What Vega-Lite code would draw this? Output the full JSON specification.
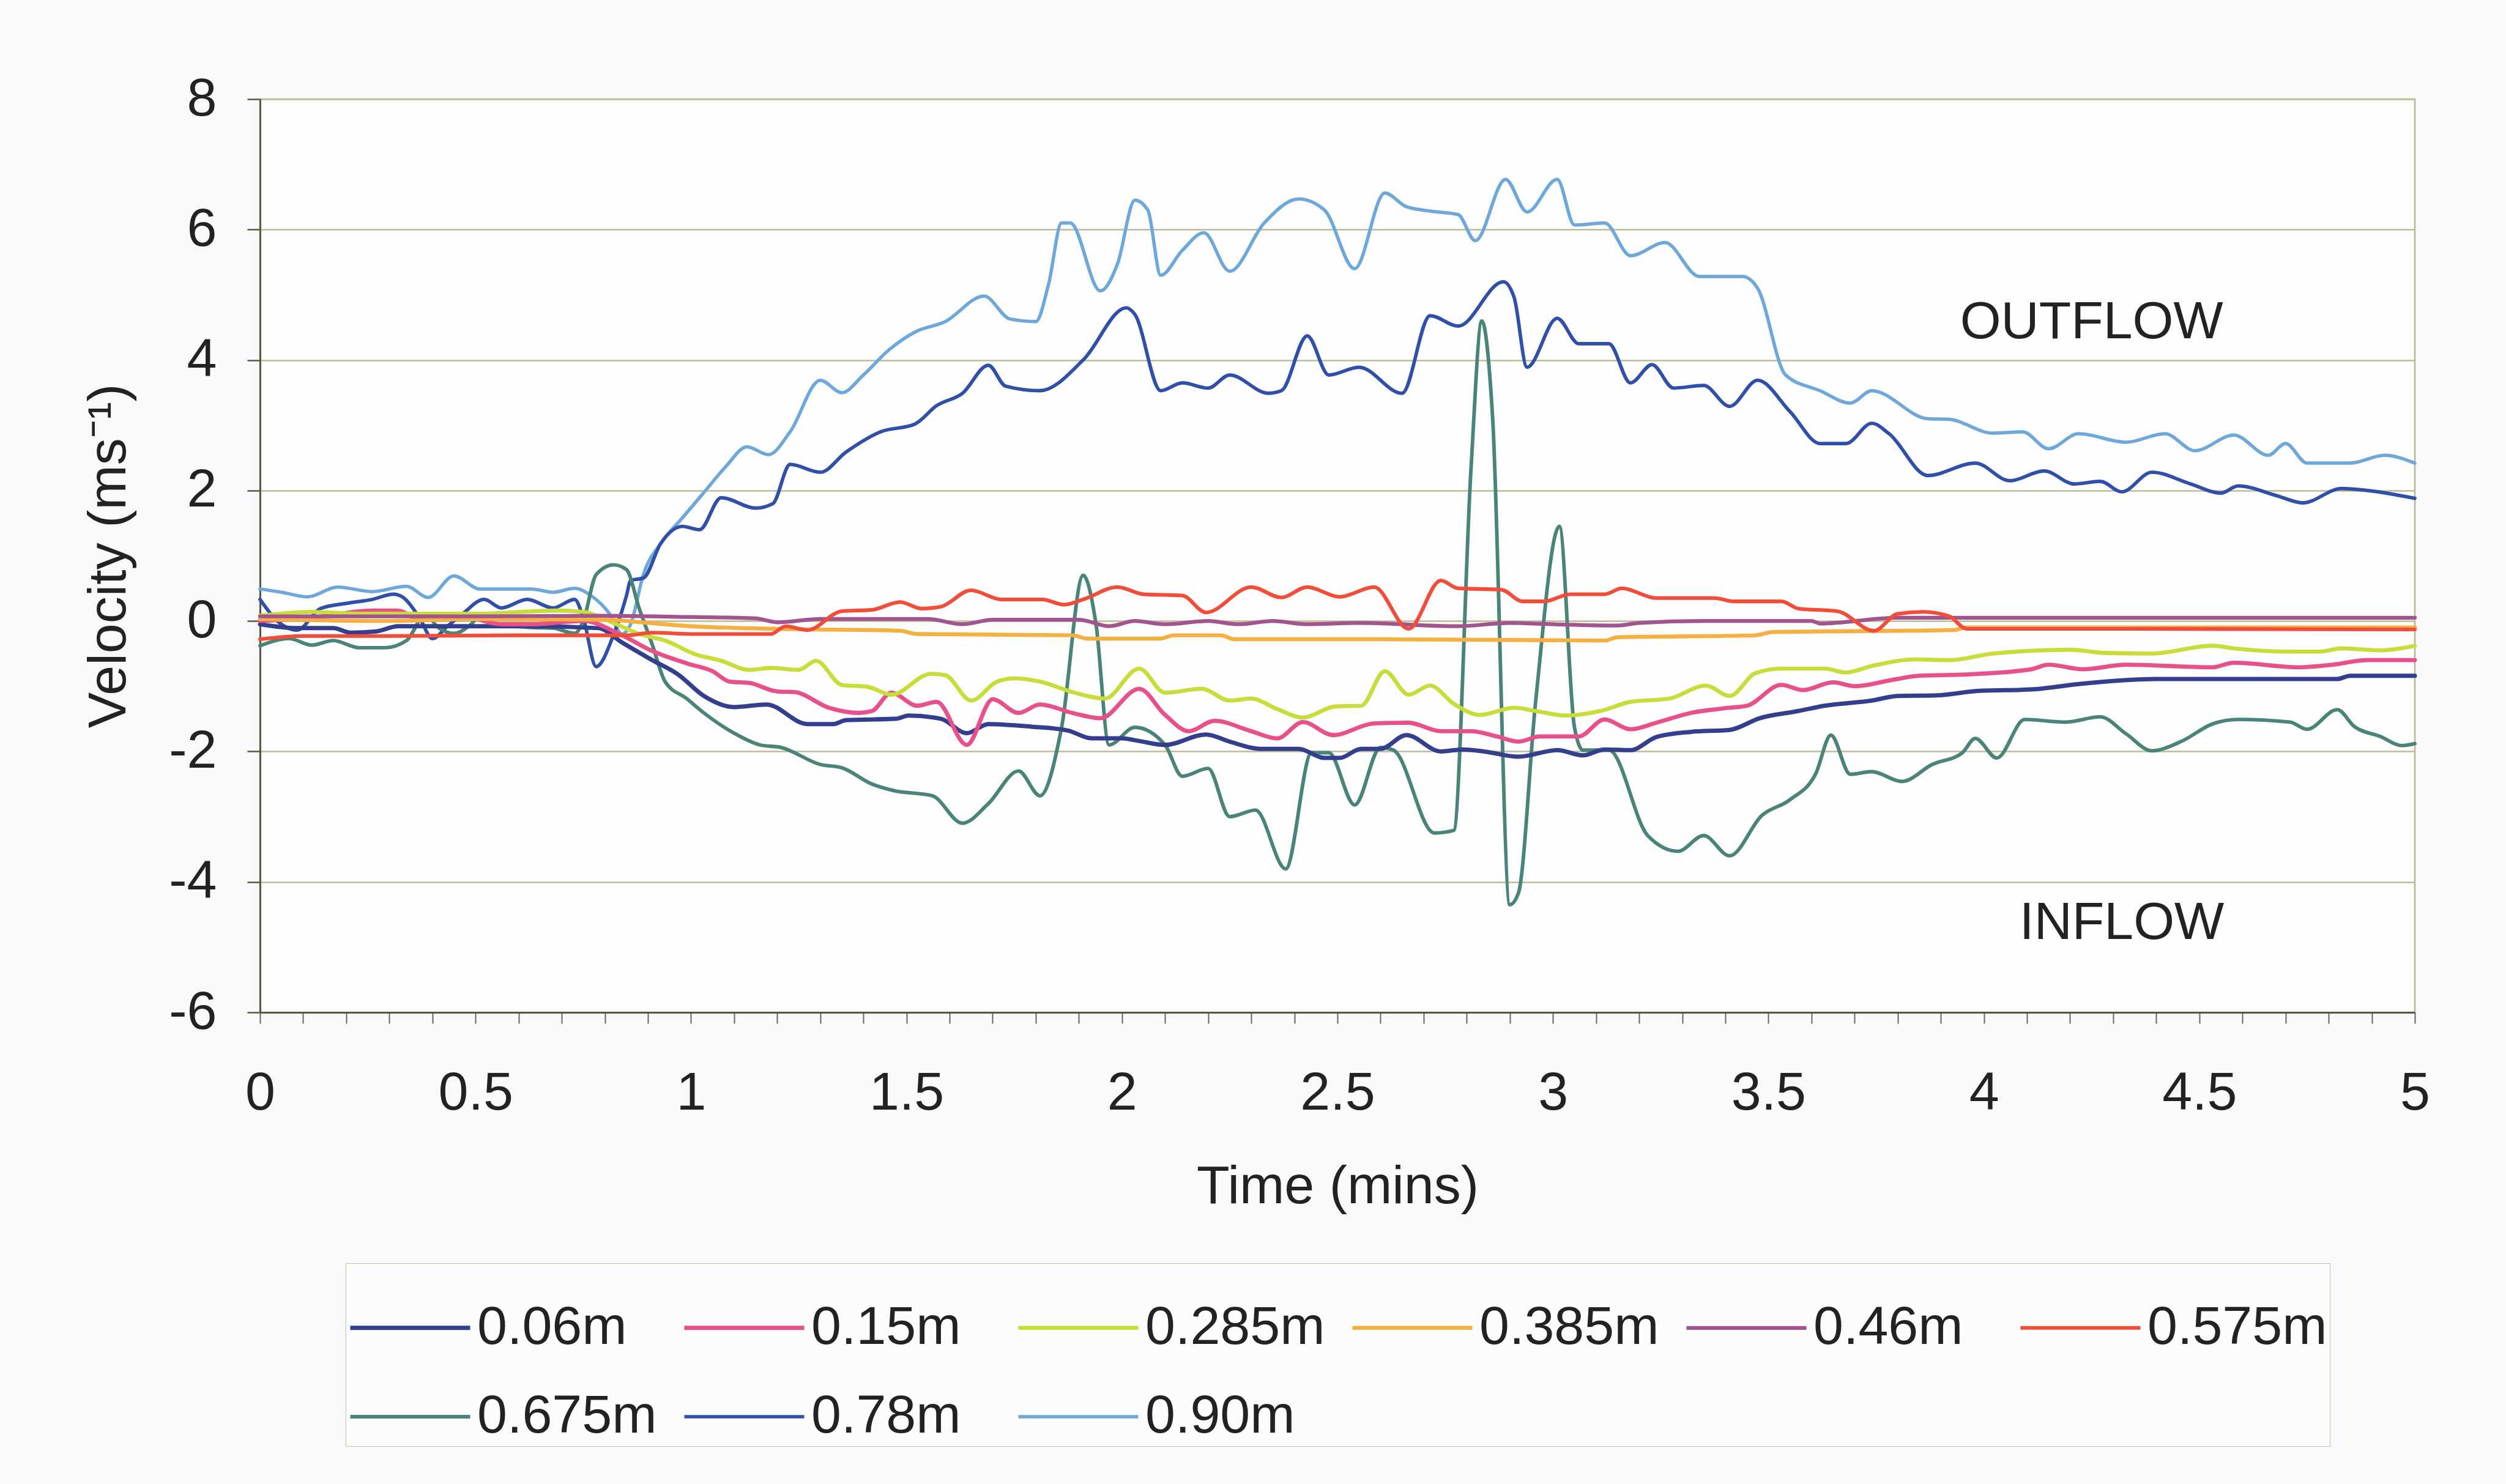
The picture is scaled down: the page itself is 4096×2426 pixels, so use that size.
{
"$schema":"https://vega.github.io/schema/vega-lite/v6.json",
"width":3522,"height":1493,
"autosize":{"type":"none"},
"padding":{"left":425,"top":162,"right":149,"bottom":771},
"background":"#f8f9fa",
"config":{"font":"Liberation Sans","view":{"stroke":"#b9b78f","strokeWidth":2.5,"fill":"#fdfdfd"}},
"datasets":{"lines":[
{"d":"0.90m","t":0,"v":0.49},{"d":"0.90m","t":0.05,"v":0.44},{"d":"0.90m","t":0.11,"v":0.37},{"d":"0.90m","t":0.18,"v":0.52},{"d":"0.90m","t":0.26,"v":0.45},{"d":"0.90m","t":0.34,"v":0.53},{"d":"0.90m","t":0.39,"v":0.36},{"d":"0.90m","t":0.45,"v":0.69},{"d":"0.90m","t":0.51,"v":0.49},{"d":"0.90m","t":0.63,"v":0.49},{"d":"0.90m","t":0.68,"v":0.44},{"d":"0.90m","t":0.73,"v":0.5},{"d":"0.90m","t":0.77,"v":0.38},{"d":"0.90m","t":0.81,"v":0.12},{"d":"0.90m","t":0.84,"v":-0.2},{"d":"0.90m","t":0.86,"v":-0.05},{"d":"0.90m","t":0.89,"v":0.72},{"d":"0.90m","t":0.93,"v":1.19},{"d":"0.90m","t":0.98,"v":1.58},{"d":"0.90m","t":1.03,"v":1.97},{"d":"0.90m","t":1.08,"v":2.36},{"d":"0.90m","t":1.13,"v":2.67},{"d":"0.90m","t":1.18,"v":2.55},{"d":"0.90m","t":1.23,"v":2.9},{"d":"0.90m","t":1.3,"v":3.69},{"d":"0.90m","t":1.35,"v":3.5},{"d":"0.90m","t":1.4,"v":3.77},{"d":"0.90m","t":1.46,"v":4.16},{"d":"0.90m","t":1.52,"v":4.43},{"d":"0.90m","t":1.59,"v":4.59},{"d":"0.90m","t":1.68,"v":4.98},{"d":"0.90m","t":1.74,"v":4.63},{"d":"0.90m","t":1.8,"v":4.59},{"d":"0.90m","t":1.83,"v":5.17},{"d":"0.90m","t":1.86,"v":6.1},{"d":"0.90m","t":1.88,"v":6.1},{"d":"0.90m","t":1.95,"v":5.06},{"d":"0.90m","t":1.99,"v":5.48},{"d":"0.90m","t":2.03,"v":6.45},{"d":"0.90m","t":2.06,"v":6.3},{"d":"0.90m","t":2.09,"v":5.3},{"d":"0.90m","t":2.14,"v":5.68},{"d":"0.90m","t":2.19,"v":5.95},{"d":"0.90m","t":2.25,"v":5.36},{"d":"0.90m","t":2.33,"v":6.1},{"d":"0.90m","t":2.41,"v":6.47},{"d":"0.90m","t":2.47,"v":6.3},{"d":"0.90m","t":2.54,"v":5.4},{"d":"0.90m","t":2.61,"v":6.56},{"d":"0.90m","t":2.66,"v":6.35},{"d":"0.90m","t":2.72,"v":6.28},{"d":"0.90m","t":2.78,"v":6.23},{"d":"0.90m","t":2.82,"v":5.83},{"d":"0.90m","t":2.89,"v":6.77},{"d":"0.90m","t":2.94,"v":6.27},{"d":"0.90m","t":3.01,"v":6.77},{"d":"0.90m","t":3.05,"v":6.07},{"d":"0.90m","t":3.12,"v":6.1},{"d":"0.90m","t":3.18,"v":5.6},{"d":"0.90m","t":3.26,"v":5.8},{"d":"0.90m","t":3.34,"v":5.28},{"d":"0.90m","t":3.44,"v":5.28},{"d":"0.90m","t":3.475,"v":5.1},{"d":"0.90m","t":3.54,"v":3.77},{"d":"0.90m","t":3.62,"v":3.53},{"d":"0.90m","t":3.69,"v":3.34},{"d":"0.90m","t":3.74,"v":3.53},{"d":"0.90m","t":3.87,"v":3.1},{"d":"0.90m","t":3.92,"v":3.09},{"d":"0.90m","t":4.02,"v":2.88},{"d":"0.90m","t":4.09,"v":2.9},{"d":"0.90m","t":4.15,"v":2.64},{"d":"0.90m","t":4.22,"v":2.87},{"d":"0.90m","t":4.33,"v":2.74},{"d":"0.90m","t":4.42,"v":2.87},{"d":"0.90m","t":4.49,"v":2.61},{"d":"0.90m","t":4.58,"v":2.85},{"d":"0.90m","t":4.66,"v":2.54},{"d":"0.90m","t":4.7,"v":2.72},{"d":"0.90m","t":4.75,"v":2.42},{"d":"0.90m","t":4.85,"v":2.42},{"d":"0.90m","t":4.93,"v":2.54},{"d":"0.90m","t":5,"v":2.42},
{"d":"0.78m","t":0,"v":0.33},{"d":"0.78m","t":0.04,"v":0},{"d":"0.78m","t":0.086,"v":-0.14},{"d":"0.78m","t":0.14,"v":0.19},{"d":"0.78m","t":0.2,"v":0.27},{"d":"0.78m","t":0.26,"v":0.33},{"d":"0.78m","t":0.31,"v":0.41},{"d":"0.78m","t":0.33,"v":0.37},{"d":"0.78m","t":0.37,"v":0.05},{"d":"0.78m","t":0.4,"v":-0.27},{"d":"0.78m","t":0.435,"v":-0.08},{"d":"0.78m","t":0.47,"v":0.11},{"d":"0.78m","t":0.52,"v":0.33},{"d":"0.78m","t":0.56,"v":0.2},{"d":"0.78m","t":0.62,"v":0.33},{"d":"0.78m","t":0.68,"v":0.2},{"d":"0.78m","t":0.73,"v":0.33},{"d":"0.78m","t":0.75,"v":0.05},{"d":"0.78m","t":0.78,"v":-0.7},{"d":"0.78m","t":0.82,"v":-0.22},{"d":"0.78m","t":0.85,"v":0.38},{"d":"0.78m","t":0.86,"v":0.62},{"d":"0.78m","t":0.89,"v":0.66},{"d":"0.78m","t":0.93,"v":1.19},{"d":"0.78m","t":0.98,"v":1.45},{"d":"0.78m","t":1.02,"v":1.4},{"d":"0.78m","t":1.07,"v":1.89},{"d":"0.78m","t":1.15,"v":1.73},{"d":"0.78m","t":1.19,"v":1.8},{"d":"0.78m","t":1.23,"v":2.4},{"d":"0.78m","t":1.3,"v":2.28},{"d":"0.78m","t":1.36,"v":2.59},{"d":"0.78m","t":1.44,"v":2.9},{"d":"0.78m","t":1.52,"v":3.02},{"d":"0.78m","t":1.57,"v":3.3},{"d":"0.78m","t":1.63,"v":3.49},{"d":"0.78m","t":1.69,"v":3.92},{"d":"0.78m","t":1.73,"v":3.6},{"d":"0.78m","t":1.81,"v":3.53},{"d":"0.78m","t":1.91,"v":4},{"d":"0.78m","t":2.01,"v":4.8},{"d":"0.78m","t":2.03,"v":4.7},{"d":"0.78m","t":2.09,"v":3.53},{"d":"0.78m","t":2.14,"v":3.65},{"d":"0.78m","t":2.2,"v":3.57},{"d":"0.78m","t":2.25,"v":3.77},{"d":"0.78m","t":2.34,"v":3.49},{"d":"0.78m","t":2.37,"v":3.53},{"d":"0.78m","t":2.43,"v":4.37},{"d":"0.78m","t":2.48,"v":3.77},{"d":"0.78m","t":2.55,"v":3.89},{"d":"0.78m","t":2.65,"v":3.49},{"d":"0.78m","t":2.715,"v":4.68},{"d":"0.78m","t":2.78,"v":4.52},{"d":"0.78m","t":2.885,"v":5.2},{"d":"0.78m","t":2.91,"v":4.96},{"d":"0.78m","t":2.94,"v":3.89},{"d":"0.78m","t":3.01,"v":4.64},{"d":"0.78m","t":3.06,"v":4.25},{"d":"0.78m","t":3.13,"v":4.25},{"d":"0.78m","t":3.18,"v":3.65},{"d":"0.78m","t":3.23,"v":3.93},{"d":"0.78m","t":3.28,"v":3.57},{"d":"0.78m","t":3.35,"v":3.61},{"d":"0.78m","t":3.41,"v":3.29},{"d":"0.78m","t":3.475,"v":3.69},{"d":"0.78m","t":3.55,"v":3.21},{"d":"0.78m","t":3.62,"v":2.72},{"d":"0.78m","t":3.68,"v":2.72},{"d":"0.78m","t":3.74,"v":3.03},{"d":"0.78m","t":3.78,"v":2.87},{"d":"0.78m","t":3.87,"v":2.23},{"d":"0.78m","t":3.98,"v":2.42},{"d":"0.78m","t":4.06,"v":2.15},{"d":"0.78m","t":4.14,"v":2.3},{"d":"0.78m","t":4.21,"v":2.1},{"d":"0.78m","t":4.27,"v":2.14},{"d":"0.78m","t":4.32,"v":1.98},{"d":"0.78m","t":4.39,"v":2.28},{"d":"0.78m","t":4.48,"v":2.1},{"d":"0.78m","t":4.55,"v":1.96},{"d":"0.78m","t":4.59,"v":2.07},{"d":"0.78m","t":4.68,"v":1.92},{"d":"0.78m","t":4.74,"v":1.81},{"d":"0.78m","t":4.83,"v":2.03},{"d":"0.78m","t":4.89,"v":2},{"d":"0.78m","t":5,"v":1.88},
{"d":"0.675m","t":0,"v":-0.38},{"d":"0.675m","t":0.067,"v":-0.27},{"d":"0.675m","t":0.12,"v":-0.37},{"d":"0.675m","t":0.17,"v":-0.3},{"d":"0.675m","t":0.23,"v":-0.41},{"d":"0.675m","t":0.29,"v":-0.41},{"d":"0.675m","t":0.34,"v":-0.3},{"d":"0.675m","t":0.385,"v":0.11},{"d":"0.675m","t":0.41,"v":-0.08},{"d":"0.675m","t":0.45,"v":-0.19},{"d":"0.675m","t":0.49,"v":-0.05},{"d":"0.675m","t":0.51,"v":0.08},{"d":"0.675m","t":0.55,"v":-0.05},{"d":"0.675m","t":0.63,"v":-0.1},{"d":"0.675m","t":0.68,"v":-0.11},{"d":"0.675m","t":0.73,"v":-0.19},{"d":"0.675m","t":0.75,"v":0},{"d":"0.675m","t":0.78,"v":0.71},{"d":"0.675m","t":0.82,"v":0.86},{"d":"0.675m","t":0.85,"v":0.79},{"d":"0.675m","t":0.88,"v":0.19},{"d":"0.675m","t":0.91,"v":-0.36},{"d":"0.675m","t":0.94,"v":-0.93},{"d":"0.675m","t":0.99,"v":-1.19},{"d":"0.675m","t":1.03,"v":-1.41},{"d":"0.675m","t":1.1,"v":-1.72},{"d":"0.675m","t":1.16,"v":-1.9},{"d":"0.675m","t":1.21,"v":-1.94},{"d":"0.675m","t":1.3,"v":-2.2},{"d":"0.675m","t":1.35,"v":-2.25},{"d":"0.675m","t":1.42,"v":-2.5},{"d":"0.675m","t":1.47,"v":-2.6},{"d":"0.675m","t":1.56,"v":-2.68},{"d":"0.675m","t":1.63,"v":-3.1},{"d":"0.675m","t":1.69,"v":-2.8},{"d":"0.675m","t":1.76,"v":-2.3},{"d":"0.675m","t":1.81,"v":-2.68},{"d":"0.675m","t":1.86,"v":-1.63},{"d":"0.675m","t":1.91,"v":0.7},{"d":"0.675m","t":1.94,"v":-0.06},{"d":"0.675m","t":1.97,"v":-1.9},{"d":"0.675m","t":2.03,"v":-1.63},{"d":"0.675m","t":2.1,"v":-1.9},{"d":"0.675m","t":2.14,"v":-2.38},{"d":"0.675m","t":2.2,"v":-2.26},{"d":"0.675m","t":2.25,"v":-3},{"d":"0.675m","t":2.31,"v":-2.9},{"d":"0.675m","t":2.38,"v":-3.8},{"d":"0.675m","t":2.44,"v":-2.02},{"d":"0.675m","t":2.48,"v":-2.02},{"d":"0.675m","t":2.54,"v":-2.82},{"d":"0.675m","t":2.6,"v":-1.94},{"d":"0.675m","t":2.63,"v":-1.98},{"d":"0.675m","t":2.725,"v":-3.25},{"d":"0.675m","t":2.77,"v":-3.21},{"d":"0.675m","t":2.81,"v":2.34},{"d":"0.675m","t":2.835,"v":4.6},{"d":"0.675m","t":2.86,"v":3.13},{"d":"0.675m","t":2.9,"v":-4.35},{"d":"0.675m","t":2.92,"v":-4.17},{"d":"0.675m","t":2.96,"v":-1.23},{"d":"0.675m","t":3.015,"v":1.45},{"d":"0.675m","t":3.05,"v":-1.63},{"d":"0.675m","t":3.07,"v":-1.98},{"d":"0.675m","t":3.13,"v":-1.98},{"d":"0.675m","t":3.22,"v":-3.29},{"d":"0.675m","t":3.29,"v":-3.53},{"d":"0.675m","t":3.35,"v":-3.29},{"d":"0.675m","t":3.41,"v":-3.6},{"d":"0.675m","t":3.485,"v":-2.98},{"d":"0.675m","t":3.55,"v":-2.74},{"d":"0.675m","t":3.61,"v":-2.34},{"d":"0.675m","t":3.645,"v":-1.75},{"d":"0.675m","t":3.69,"v":-2.35},{"d":"0.675m","t":3.74,"v":-2.31},{"d":"0.675m","t":3.81,"v":-2.46},{"d":"0.675m","t":3.88,"v":-2.2},{"d":"0.675m","t":3.95,"v":-2.02},{"d":"0.675m","t":3.98,"v":-1.8},{"d":"0.675m","t":4.03,"v":-2.1},{"d":"0.675m","t":4.095,"v":-1.51},{"d":"0.675m","t":4.19,"v":-1.55},{"d":"0.675m","t":4.27,"v":-1.47},{"d":"0.675m","t":4.33,"v":-1.73},{"d":"0.675m","t":4.39,"v":-1.99},{"d":"0.675m","t":4.46,"v":-1.84},{"d":"0.675m","t":4.53,"v":-1.58},{"d":"0.675m","t":4.59,"v":-1.51},{"d":"0.675m","t":4.71,"v":-1.55},{"d":"0.675m","t":4.75,"v":-1.66},{"d":"0.675m","t":4.82,"v":-1.36},{"d":"0.675m","t":4.86,"v":-1.62},{"d":"0.675m","t":4.92,"v":-1.77},{"d":"0.675m","t":4.97,"v":-1.91},{"d":"0.675m","t":5,"v":-1.88},
{"d":"0.06m","t":0,"v":-0.05},{"d":"0.06m","t":0.086,"v":-0.11},{"d":"0.06m","t":0.17,"v":-0.11},{"d":"0.06m","t":0.21,"v":-0.18},{"d":"0.06m","t":0.27,"v":-0.16},{"d":"0.06m","t":0.32,"v":-0.08},{"d":"0.06m","t":0.5,"v":-0.08},{"d":"0.06m","t":0.63,"v":-0.08},{"d":"0.06m","t":0.785,"v":-0.11},{"d":"0.06m","t":0.84,"v":-0.33},{"d":"0.06m","t":0.91,"v":-0.6},{"d":"0.06m","t":0.97,"v":-0.82},{"d":"0.06m","t":1.03,"v":-1.15},{"d":"0.06m","t":1.1,"v":-1.32},{"d":"0.06m","t":1.175,"v":-1.28},{"d":"0.06m","t":1.27,"v":-1.58},{"d":"0.06m","t":1.33,"v":-1.58},{"d":"0.06m","t":1.36,"v":-1.52},{"d":"0.06m","t":1.475,"v":-1.5},{"d":"0.06m","t":1.505,"v":-1.45},{"d":"0.06m","t":1.58,"v":-1.5},{"d":"0.06m","t":1.64,"v":-1.72},{"d":"0.06m","t":1.69,"v":-1.58},{"d":"0.06m","t":1.79,"v":-1.62},{"d":"0.06m","t":1.875,"v":-1.68},{"d":"0.06m","t":1.93,"v":-1.8},{"d":"0.06m","t":2,"v":-1.8},{"d":"0.06m","t":2.04,"v":-1.84},{"d":"0.06m","t":2.1,"v":-1.9},{"d":"0.06m","t":2.195,"v":-1.74},{"d":"0.06m","t":2.25,"v":-1.85},{"d":"0.06m","t":2.32,"v":-1.96},{"d":"0.06m","t":2.41,"v":-1.96},{"d":"0.06m","t":2.47,"v":-2.1},{"d":"0.06m","t":2.505,"v":-2.1},{"d":"0.06m","t":2.555,"v":-1.96},{"d":"0.06m","t":2.6,"v":-1.96},{"d":"0.06m","t":2.66,"v":-1.75},{"d":"0.06m","t":2.74,"v":-2},{"d":"0.06m","t":2.79,"v":-1.97},{"d":"0.06m","t":2.84,"v":-2},{"d":"0.06m","t":2.92,"v":-2.08},{"d":"0.06m","t":3.01,"v":-1.98},{"d":"0.06m","t":3.07,"v":-2.06},{"d":"0.06m","t":3.12,"v":-1.97},{"d":"0.06m","t":3.18,"v":-1.98},{"d":"0.06m","t":3.24,"v":-1.78},{"d":"0.06m","t":3.32,"v":-1.7},{"d":"0.06m","t":3.41,"v":-1.67},{"d":"0.06m","t":3.48,"v":-1.49},{"d":"0.06m","t":3.57,"v":-1.38},{"d":"0.06m","t":3.63,"v":-1.3},{"d":"0.06m","t":3.74,"v":-1.22},{"d":"0.06m","t":3.8,"v":-1.15},{"d":"0.06m","t":3.89,"v":-1.14},{"d":"0.06m","t":3.99,"v":-1.07},{"d":"0.06m","t":4.11,"v":-1.05},{"d":"0.06m","t":4.23,"v":-0.96},{"d":"0.06m","t":4.4,"v":-0.89},{"d":"0.06m","t":4.82,"v":-0.89},{"d":"0.06m","t":4.85,"v":-0.84},{"d":"0.06m","t":5,"v":-0.84},
{"d":"0.15m","t":0,"v":0},{"d":"0.15m","t":0.12,"v":0.05},{"d":"0.15m","t":0.26,"v":0.16},{"d":"0.15m","t":0.32,"v":0.16},{"d":"0.15m","t":0.37,"v":0.03},{"d":"0.15m","t":0.45,"v":0.11},{"d":"0.15m","t":0.56,"v":-0.05},{"d":"0.15m","t":0.63,"v":-0.05},{"d":"0.15m","t":0.75,"v":0},{"d":"0.15m","t":0.84,"v":-0.22},{"d":"0.15m","t":0.91,"v":-0.46},{"d":"0.15m","t":0.99,"v":-0.65},{"d":"0.15m","t":1.05,"v":-0.77},{"d":"0.15m","t":1.09,"v":-0.93},{"d":"0.15m","t":1.135,"v":-0.95},{"d":"0.15m","t":1.2,"v":-1.08},{"d":"0.15m","t":1.24,"v":-1.09},{"d":"0.15m","t":1.32,"v":-1.33},{"d":"0.15m","t":1.39,"v":-1.41},{"d":"0.15m","t":1.42,"v":-1.38},{"d":"0.15m","t":1.465,"v":-1.1},{"d":"0.15m","t":1.525,"v":-1.3},{"d":"0.15m","t":1.57,"v":-1.24},{"d":"0.15m","t":1.64,"v":-1.9},{"d":"0.15m","t":1.7,"v":-1.2},{"d":"0.15m","t":1.76,"v":-1.41},{"d":"0.15m","t":1.81,"v":-1.28},{"d":"0.15m","t":1.885,"v":-1.41},{"d":"0.15m","t":1.95,"v":-1.49},{"d":"0.15m","t":2.04,"v":-1.04},{"d":"0.15m","t":2.1,"v":-1.44},{"d":"0.15m","t":2.155,"v":-1.69},{"d":"0.15m","t":2.215,"v":-1.53},{"d":"0.15m","t":2.3,"v":-1.69},{"d":"0.15m","t":2.36,"v":-1.8},{"d":"0.15m","t":2.42,"v":-1.55},{"d":"0.15m","t":2.49,"v":-1.75},{"d":"0.15m","t":2.585,"v":-1.57},{"d":"0.15m","t":2.665,"v":-1.56},{"d":"0.15m","t":2.74,"v":-1.69},{"d":"0.15m","t":2.81,"v":-1.69},{"d":"0.15m","t":2.87,"v":-1.77},{"d":"0.15m","t":2.92,"v":-1.85},{"d":"0.15m","t":2.97,"v":-1.77},{"d":"0.15m","t":3.06,"v":-1.77},{"d":"0.15m","t":3.12,"v":-1.51},{"d":"0.15m","t":3.18,"v":-1.66},{"d":"0.15m","t":3.24,"v":-1.56},{"d":"0.15m","t":3.32,"v":-1.41},{"d":"0.15m","t":3.41,"v":-1.33},{"d":"0.15m","t":3.45,"v":-1.3},{"d":"0.15m","t":3.53,"v":-0.98},{"d":"0.15m","t":3.58,"v":-1.06},{"d":"0.15m","t":3.65,"v":-0.94},{"d":"0.15m","t":3.7,"v":-1},{"d":"0.15m","t":3.79,"v":-0.9},{"d":"0.15m","t":3.85,"v":-0.84},{"d":"0.15m","t":3.96,"v":-0.82},{"d":"0.15m","t":4.11,"v":-0.74},{"d":"0.15m","t":4.15,"v":-0.67},{"d":"0.15m","t":4.23,"v":-0.74},{"d":"0.15m","t":4.33,"v":-0.67},{"d":"0.15m","t":4.53,"v":-0.71},{"d":"0.15m","t":4.58,"v":-0.64},{"d":"0.15m","t":4.73,"v":-0.71},{"d":"0.15m","t":4.81,"v":-0.67},{"d":"0.15m","t":4.89,"v":-0.6},{"d":"0.15m","t":5,"v":-0.6},
{"d":"0.285m","t":0,"v":0.08},{"d":"0.285m","t":0.12,"v":0.14},{"d":"0.285m","t":0.24,"v":0.11},{"d":"0.285m","t":0.5,"v":0.11},{"d":"0.285m","t":0.69,"v":0.16},{"d":"0.285m","t":0.75,"v":0.14},{"d":"0.285m","t":0.82,"v":-0.03},{"d":"0.285m","t":0.88,"v":-0.2},{"d":"0.285m","t":0.94,"v":-0.3},{"d":"0.285m","t":1.01,"v":-0.51},{"d":"0.285m","t":1.07,"v":-0.61},{"d":"0.285m","t":1.135,"v":-0.75},{"d":"0.285m","t":1.185,"v":-0.72},{"d":"0.285m","t":1.25,"v":-0.75},{"d":"0.285m","t":1.29,"v":-0.61},{"d":"0.285m","t":1.35,"v":-0.98},{"d":"0.285m","t":1.41,"v":-1.01},{"d":"0.285m","t":1.465,"v":-1.13},{"d":"0.285m","t":1.557,"v":-0.81},{"d":"0.285m","t":1.59,"v":-0.83},{"d":"0.285m","t":1.65,"v":-1.22},{"d":"0.285m","t":1.71,"v":-0.93},{"d":"0.285m","t":1.75,"v":-0.88},{"d":"0.285m","t":1.81,"v":-0.93},{"d":"0.285m","t":1.885,"v":-1.09},{"d":"0.285m","t":1.96,"v":-1.19},{"d":"0.285m","t":2.04,"v":-0.73},{"d":"0.285m","t":2.1,"v":-1.1},{"d":"0.285m","t":2.185,"v":-1.04},{"d":"0.285m","t":2.25,"v":-1.22},{"d":"0.285m","t":2.3,"v":-1.19},{"d":"0.285m","t":2.36,"v":-1.35},{"d":"0.285m","t":2.42,"v":-1.48},{"d":"0.285m","t":2.495,"v":-1.31},{"d":"0.285m","t":2.555,"v":-1.3},{"d":"0.285m","t":2.61,"v":-0.77},{"d":"0.285m","t":2.665,"v":-1.13},{"d":"0.285m","t":2.715,"v":-0.99},{"d":"0.285m","t":2.77,"v":-1.27},{"d":"0.285m","t":2.83,"v":-1.44},{"d":"0.285m","t":2.91,"v":-1.33},{"d":"0.285m","t":2.96,"v":-1.38},{"d":"0.285m","t":3.03,"v":-1.45},{"d":"0.285m","t":3.11,"v":-1.38},{"d":"0.285m","t":3.18,"v":-1.24},{"d":"0.285m","t":3.27,"v":-1.19},{"d":"0.285m","t":3.355,"v":-0.99},{"d":"0.285m","t":3.41,"v":-1.15},{"d":"0.285m","t":3.47,"v":-0.8},{"d":"0.285m","t":3.53,"v":-0.73},{"d":"0.285m","t":3.63,"v":-0.73},{"d":"0.285m","t":3.68,"v":-0.79},{"d":"0.285m","t":3.74,"v":-0.69},{"d":"0.285m","t":3.84,"v":-0.59},{"d":"0.285m","t":3.92,"v":-0.6},{"d":"0.285m","t":4.02,"v":-0.5},{"d":"0.285m","t":4.2,"v":-0.44},{"d":"0.285m","t":4.28,"v":-0.49},{"d":"0.285m","t":4.39,"v":-0.5},{"d":"0.285m","t":4.53,"v":-0.38},{"d":"0.285m","t":4.58,"v":-0.42},{"d":"0.285m","t":4.71,"v":-0.47},{"d":"0.285m","t":4.78,"v":-0.47},{"d":"0.285m","t":4.83,"v":-0.42},{"d":"0.285m","t":4.92,"v":-0.45},{"d":"0.285m","t":5,"v":-0.38},
{"d":"0.385m","t":0,"v":0.03},{"d":"0.385m","t":0.3,"v":0},{"d":"0.385m","t":0.5,"v":0.03},{"d":"0.385m","t":0.8,"v":0.02},{"d":"0.385m","t":0.9,"v":-0.03},{"d":"0.385m","t":1,"v":-0.08},{"d":"0.385m","t":1.2,"v":-0.12},{"d":"0.385m","t":1.485,"v":-0.15},{"d":"0.385m","t":1.525,"v":-0.2},{"d":"0.385m","t":1.885,"v":-0.22},{"d":"0.385m","t":1.92,"v":-0.27},{"d":"0.385m","t":2.09,"v":-0.27},{"d":"0.385m","t":2.12,"v":-0.22},{"d":"0.385m","t":2.23,"v":-0.22},{"d":"0.385m","t":2.26,"v":-0.28},{"d":"0.385m","t":2.6,"v":-0.28},{"d":"0.385m","t":3.12,"v":-0.3},{"d":"0.385m","t":3.15,"v":-0.25},{"d":"0.385m","t":3.47,"v":-0.22},{"d":"0.385m","t":3.51,"v":-0.17},{"d":"0.385m","t":3.93,"v":-0.14},{"d":"0.385m","t":3.96,"v":-0.1},{"d":"0.385m","t":5,"v":-0.1},
{"d":"0.46m","t":0,"v":0.07},{"d":"0.46m","t":0.5,"v":0.07},{"d":"0.46m","t":0.8,"v":0.08},{"d":"0.46m","t":1,"v":0.06},{"d":"0.46m","t":1.15,"v":0.04},{"d":"0.46m","t":1.2,"v":-0.02},{"d":"0.46m","t":1.3,"v":0.03},{"d":"0.46m","t":1.55,"v":0.03},{"d":"0.46m","t":1.63,"v":-0.05},{"d":"0.46m","t":1.7,"v":0.02},{"d":"0.46m","t":1.9,"v":0.02},{"d":"0.46m","t":1.97,"v":-0.08},{"d":"0.46m","t":2.03,"v":0},{"d":"0.46m","t":2.1,"v":-0.05},{"d":"0.46m","t":2.2,"v":0},{"d":"0.46m","t":2.27,"v":-0.05},{"d":"0.46m","t":2.35,"v":0},{"d":"0.46m","t":2.43,"v":-0.05},{"d":"0.46m","t":2.55,"v":-0.03},{"d":"0.46m","t":2.78,"v":-0.08},{"d":"0.46m","t":2.9,"v":-0.03},{"d":"0.46m","t":3,"v":-0.05},{"d":"0.46m","t":3.15,"v":-0.07},{"d":"0.46m","t":3.2,"v":-0.03},{"d":"0.46m","t":3.35,"v":0},{"d":"0.46m","t":3.6,"v":0},{"d":"0.46m","t":3.62,"v":-0.04},{"d":"0.46m","t":3.8,"v":0.05},{"d":"0.46m","t":5,"v":0.05},
{"d":"0.575m","t":0,"v":-0.28},{"d":"0.575m","t":0.1,"v":-0.23},{"d":"0.575m","t":0.3,"v":-0.23},{"d":"0.575m","t":0.6,"v":-0.22},{"d":"0.575m","t":0.85,"v":-0.22},{"d":"0.575m","t":0.91,"v":-0.18},{"d":"0.575m","t":1.01,"v":-0.2},{"d":"0.575m","t":1.185,"v":-0.2},{"d":"0.575m","t":1.22,"v":-0.08},{"d":"0.575m","t":1.27,"v":-0.14},{"d":"0.575m","t":1.35,"v":0.15},{"d":"0.575m","t":1.42,"v":0.17},{"d":"0.575m","t":1.485,"v":0.29},{"d":"0.575m","t":1.535,"v":0.19},{"d":"0.575m","t":1.58,"v":0.22},{"d":"0.575m","t":1.65,"v":0.47},{"d":"0.575m","t":1.72,"v":0.33},{"d":"0.575m","t":1.815,"v":0.33},{"d":"0.575m","t":1.865,"v":0.25},{"d":"0.575m","t":1.91,"v":0.33},{"d":"0.575m","t":1.99,"v":0.52},{"d":"0.575m","t":2.05,"v":0.41},{"d":"0.575m","t":2.14,"v":0.39},{"d":"0.575m","t":2.195,"v":0.13},{"d":"0.575m","t":2.3,"v":0.52},{"d":"0.575m","t":2.37,"v":0.36},{"d":"0.575m","t":2.43,"v":0.52},{"d":"0.575m","t":2.505,"v":0.37},{"d":"0.575m","t":2.585,"v":0.52},{"d":"0.575m","t":2.665,"v":-0.12},{"d":"0.575m","t":2.74,"v":0.62},{"d":"0.575m","t":2.78,"v":0.5},{"d":"0.575m","t":2.88,"v":0.48},{"d":"0.575m","t":2.93,"v":0.3},{"d":"0.575m","t":2.98,"v":0.3},{"d":"0.575m","t":3.04,"v":0.41},{"d":"0.575m","t":3.12,"v":0.41},{"d":"0.575m","t":3.16,"v":0.5},{"d":"0.575m","t":3.24,"v":0.35},{"d":"0.575m","t":3.375,"v":0.35},{"d":"0.575m","t":3.42,"v":0.3},{"d":"0.575m","t":3.53,"v":0.3},{"d":"0.575m","t":3.57,"v":0.19},{"d":"0.575m","t":3.66,"v":0.15},{"d":"0.575m","t":3.745,"v":-0.15},{"d":"0.575m","t":3.8,"v":0.11},{"d":"0.575m","t":3.86,"v":0.14},{"d":"0.575m","t":3.92,"v":0.07},{"d":"0.575m","t":3.96,"v":-0.12},{"d":"0.575m","t":4.3,"v":-0.12},{"d":"0.575m","t":5,"v":-0.13}
]},
"layer":[
{"data":{"name":"lines"},
 "mark":{"type":"line","strokeJoin":"round","strokeCap":"round","interpolate":"monotone"},
 "encoding":{
  "x":{"field":"t","type":"quantitative","scale":{"domain":[0,5],"nice":false,"zero":false},
   "axis":{"title":"Time (mins)","values":[0,0.1,0.2,0.3,0.4,0.5,0.6,0.7,0.8,0.9,1,1.1,1.2,1.3,1.4,1.5,1.6,1.7,1.8,1.9,2,2.1,2.2,2.3,2.4,2.5,2.6,2.7,2.8,2.9,3,3.1,3.2,3.3,3.4,3.5,3.6,3.7,3.8,3.9,4,4.1,4.2,4.3,4.4,4.5,4.6,4.7,4.8,4.9,5],
    "labelExpr":"abs(datum.value*2 - round(datum.value*2)) < 0.01 ? format(datum.value, '~g') : ''",
    "labelOverlap":false,"labelFlush":false,"labelBound":false,"grid":false,
    "domainColor":"#5a5545","domainWidth":3,"tickColor":"#6a6655","tickWidth":2,"tickSize":18,
    "labelFontSize":88,"labelColor":"#222222","labelPadding":70,
    "titleFontSize":88,"titleFontWeight":"normal","titleColor":"#222222","titlePadding":65}},
  "y":{"field":"v","type":"quantitative","scale":{"domain":[-6,8],"nice":false,"zero":false},
   "axis":{"title":"Velocity (ms⁻¹)","values":[-6,-4,-2,0,2,4,6,8],"grid":true,"gridColor":"#bdbb94","gridWidth":2.5,
    "labelExpr":"datum.value < 0 ? '-' + abs(datum.value) : '' + datum.value",
    "domainColor":"#5a5545","domainWidth":3,"tickColor":"#5a5545","tickWidth":2.5,"tickSize":21,
    "labelFontSize":88,"labelColor":"#222222","labelPadding":50,
    "titleFontSize":88,"titleFontWeight":"normal","titleColor":"#222222","titlePadding":53}},
  "color":{"field":"d","type":"nominal",
   "scale":{"domain":["0.06m","0.15m","0.285m","0.385m","0.46m","0.575m","0.675m","0.78m","0.90m"],
    "range":["#333f8c","#e8508a","#c8dc3a","#f5b041","#a2548f","#f04e3a","#4a8478","#2f4fa8","#6ea8da"]},
   "legend":{"title":null,"orient":"none","legendX":140,"legendY":1903,"direction":"horizontal","columns":6,
    "symbolType":"stroke","symbolSize":38416,"symbolStrokeWidth":6,"labelFontSize":88,"labelColor":"#222222",
    "labelOffset":8,"columnPadding":30,"rowPadding":-3,"gridAlign":"all","padding":4,
    "strokeColor":"#c4c2a0","fillColor":"#fbfcfc","labelLimit":0}},
  "strokeWidth":{"field":"d","type":"ordinal",
   "scale":{"domain":["0.06m","0.15m","0.285m","0.385m","0.46m","0.575m","0.675m","0.78m","0.90m"],
    "range":[7,5.5,6.5,6.5,5.5,7,4.5,8,4.5]},"legend":null},
  "order":{"field":"t"}
 }},
{"data":{"values":[{"label":"OUTFLOW"}]},
 "mark":{"type":"text","fontSize":86,"color":"#222222","baseline":"middle","align":"center"},
 "encoding":{"x":{"datum":4.25},"y":{"datum":4.58},"text":{"field":"label"}}},
{"data":{"values":[{"label":"INFLOW"}]},
 "mark":{"type":"text","fontSize":86,"color":"#222222","baseline":"middle","align":"center"},
 "encoding":{"x":{"datum":4.32},"y":{"datum":-4.63},"text":{"field":"label"}}}
]
}
